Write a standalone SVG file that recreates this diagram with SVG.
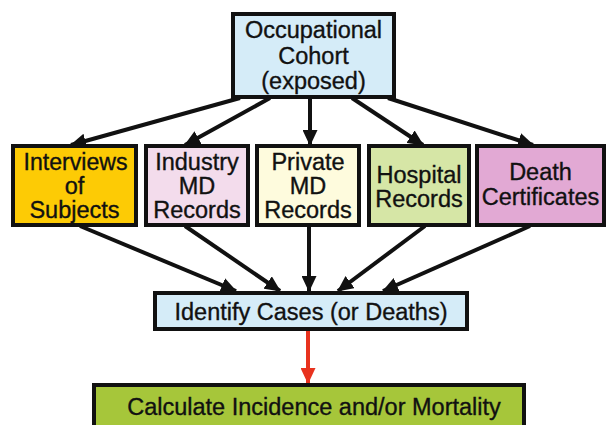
<svg xmlns="http://www.w3.org/2000/svg" width="606" height="425" viewBox="0 0 606 425">
<defs>
<style>
.box{stroke:#111;stroke-width:4}
.t{font-family:"Liberation Sans",Arial,sans-serif;font-size:23.5px;fill:#111;stroke:#111;stroke-width:0.35;text-anchor:middle}
.c{stroke:#111;stroke-width:4;fill:none}
</style>
<marker id="ah" markerUnits="userSpaceOnUse" markerWidth="16" markerHeight="15" viewBox="0 0 16 15" refX="15" refY="7.5" orient="auto">
<path d="M0,0 L16,7.5 L0,15 z" fill="#111"/>
</marker>
<marker id="ahr" markerUnits="userSpaceOnUse" markerWidth="16" markerHeight="15" viewBox="0 0 16 15" refX="15" refY="7.5" orient="auto">
<path d="M0,0 L16,7.5 L0,15 z" fill="#e8321e"/>
</marker>
</defs>
<rect width="606" height="425" fill="#fff"/>
<g id="connectors">
<line class="c" x1="240" y1="98" x2="71" y2="145" marker-end="url(#ah)"/>
<line class="c" x1="270" y1="98" x2="185" y2="145" marker-end="url(#ah)"/>
<line class="c" x1="310" y1="98" x2="310" y2="145" marker-end="url(#ah)"/>
<line class="c" x1="352" y1="98" x2="423" y2="145" marker-end="url(#ah)"/>
<line class="c" x1="388" y1="98" x2="533" y2="145" marker-end="url(#ah)"/>
<line class="c" x1="80" y1="226" x2="236" y2="291" marker-end="url(#ah)"/>
<line class="c" x1="185" y1="226" x2="280" y2="291" marker-end="url(#ah)"/>
<line class="c" x1="309" y1="226" x2="309" y2="291" marker-end="url(#ah)"/>
<line class="c" x1="425" y1="226" x2="338" y2="291" marker-end="url(#ah)"/>
<line class="c" x1="530" y1="226" x2="383" y2="291" marker-end="url(#ah)"/>
<line x1="308" y1="330" x2="308" y2="383" stroke="#e8321e" stroke-width="4" marker-end="url(#ahr)"/>
</g>
<g id="cohort">
<rect class="box" x="233" y="14" width="161" height="83" fill="#d5ecf8"/>
<text class="t" x="313.5" y="38">Occupational</text>
<text class="t" x="313.5" y="64">Cohort</text>
<text class="t" x="313.5" y="89">(exposed)</text>
</g>
<g id="interviews">
<rect class="box" x="13" y="146" width="123" height="79" fill="#fdcb05"/>
<text class="t" x="75.5" y="170" textLength="104" lengthAdjust="spacingAndGlyphs">Interviews</text>
<text class="t" x="74.5" y="194">of</text>
<text class="t" x="74.5" y="218">Subjects</text>
</g>
<g id="industry">
<rect class="box" x="146" y="146" width="102" height="79" fill="#f3dcec"/>
<text class="t" x="197" y="170">Industry</text>
<text class="t" x="197" y="194">MD</text>
<text class="t" x="197" y="218">Records</text>
</g>
<g id="private">
<rect class="box" x="257" y="146" width="102" height="79" fill="#fefbdd"/>
<text class="t" x="308" y="170">Private</text>
<text class="t" x="308" y="194">MD</text>
<text class="t" x="308" y="218">Records</text>
</g>
<g id="hospital">
<rect class="box" x="369" y="146" width="100" height="79" fill="#d6e6a6"/>
<text class="t" x="419" y="183">Hospital</text>
<text class="t" x="419" y="207">Records</text>
</g>
<g id="death">
<rect class="box" x="477" y="146" width="127" height="79" fill="#e2a9d4"/>
<text class="t" x="540.5" y="180">Death</text>
<text class="t" x="540.5" y="205">Certificates</text>
</g>
<g id="identify">
<rect class="box" x="155" y="293" width="312" height="36" fill="#d5ecf8"/>
<text class="t" x="311" y="320">Identify Cases (or Deaths)</text>
</g>
<g id="calculate">
<rect class="box" x="94" y="385" width="430" height="50" fill="#a6c63a"/>
<text class="t" x="314" y="415">Calculate Incidence and/or Mortality</text>
</g>
</svg>
